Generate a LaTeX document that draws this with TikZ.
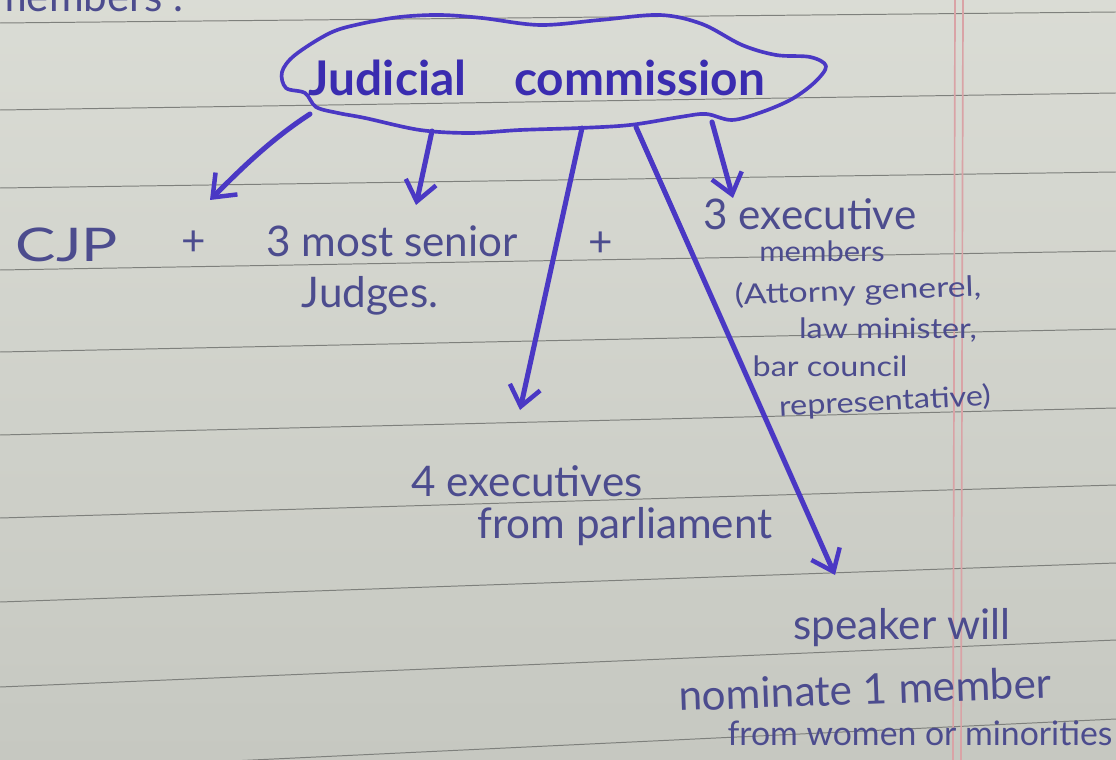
\documentclass[tikz,border=0pt]{standalone}
\usepackage{fontspec}
\setmainfont{Lato}
\usetikzlibrary{arrows.meta}
\definecolor{paper}{HTML}{D6D8D0}
\definecolor{paperdark}{HTML}{C6C8C1}
\definecolor{rule}{HTML}{7E807C}
\definecolor{margin}{HTML}{D9A3A6}
\definecolor{ink}{HTML}{4A38C4}
\definecolor{noteink}{HTML}{4C4C8E}
\definecolor{titleink}{HTML}{3A2CB0}
\tikzset{
  note/.style={text=noteink, inner sep=0pt, font=\fontsize{30}{32}\selectfont},
  bignote/.style={note, font=\fontsize{33}{35}\selectfont},
  smallnote/.style={note, font=\fontsize{22}{24}\selectfont},
  tinynote/.style={note, font=\fontsize{20}{22}\selectfont},
  pen/.style={draw=ink, line width=3.6pt, line cap=round, line join=round,
    -{Straight Barb[length=14pt,width=22pt,line width=3.2pt]}},
  cloudline/.style={draw=ink, line width=2.6pt, line join=round},
  ruleline/.style={draw=rule, line width=0.7pt},
}
\begin{document}
\begin{tikzpicture}[x=0.025cm,y=-0.025cm]
\useasboundingbox (0,0) rectangle (1116,760);
\clip (0,0) rectangle (1116,760);
% paper
\shade[top color=paper!90!white, bottom color=paperdark] (0,0) rectangle (1116,760);
% ruled lines
\foreach \a/\b in {23/12,110/93,188/172,270/251,352/329,435/408,518/485,602/563,687/640,772/719}
  \draw[ruleline] (0,\a) -- (1116,\b);
% margin
\draw[margin, line width=1.2pt] (955,0) -- (953,760);
\draw[margin, line width=1.2pt] (963,0) -- (961,760);
% top cut text
\node[note, anchor=base] (prev) at (88,12) {members .};
% cloud
\draw[cloudline] plot[smooth cycle, tension=0.55] coordinates {
  (295,55) (282,72) (286,88) (305,93) (316,107) (338,113) (365,118)
  (420,130) (470,133) (520,130) (580,128) (630,125) (680,117) (706,114)
  (732,120) (762,112) (792,99) (815,82) (826,66) (810,57) (776,55)
  (742,45) (702,24) (660,15) (600,20) (540,25) (482,18) (440,15)
  (400,17) (360,24) (330,33)};
\node[font=\fontsize{34}{36}\selectfont\bfseries, text=titleink, inner sep=0pt] (jc) at (537,78) {Judicial\quad commission};
% coordinates of arrows
\coordinate (s1) at (310,114);
\coordinate (e1) at (210,200);
\coordinate (s2) at (432,131);
\coordinate (e2) at (416,205);
\coordinate (s3) at (582,128);
\coordinate (e3) at (520,410);
\coordinate (s4) at (636,127);
\coordinate (e4) at (835,575);
\coordinate (s5) at (712,122);
\coordinate (e5) at (733,198);
\draw[pen] (s1) .. controls (270,140) and (240,170) .. (e1);
\draw[pen] (s2) -- (e2);
\draw[pen] (s3) -- (e3);
\draw[pen] (s4) -- (e4);
\draw[pen] (s5) -- (e5);
% texts
\node[bignote] (cjp) at (67,245) {\scalebox{1.3}[1]{CJP}};
\node[note] (plus1) at (194,243) {+};
\node[note] (sen) at (392,241) {3 most senior};
\node[note] (jud) at (370,296) {Judges.};
\node[note] (plus2) at (601,244) {+};
\node[note] (ex3) at (810,214) {3 executive};
\node[tinynote] (mem) at (822,251) {\scalebox{1.1}[1]{members}};
\node[tinynote, rotate=2] (att) at (858,292) {\scalebox{1.2}[1]{(Attorny generel,}};
\node[tinynote] (law) at (888,330) {\scalebox{1.15}[1]{law minister,}};
\node[tinynote] (bar) at (830,366) {\scalebox{1.15}[1]{bar council}};
\node[tinynote, rotate=3] (rep) at (885,402) {\scalebox{1.15}[1]{representative)}};
\node[note] (ex4) at (527,481) {4 executives};
\node[note] (parl) at (625,527) {from parliament};
\node[note] (spk) at (902,628) {speaker will};
\node[note, rotate=2] (nom) at (865,689) {nominate 1 member};
\node[note, font=\fontsize{24}{26}\selectfont] (wom) at (920,733) {from women or minorities};
\end{tikzpicture}
\end{document}
